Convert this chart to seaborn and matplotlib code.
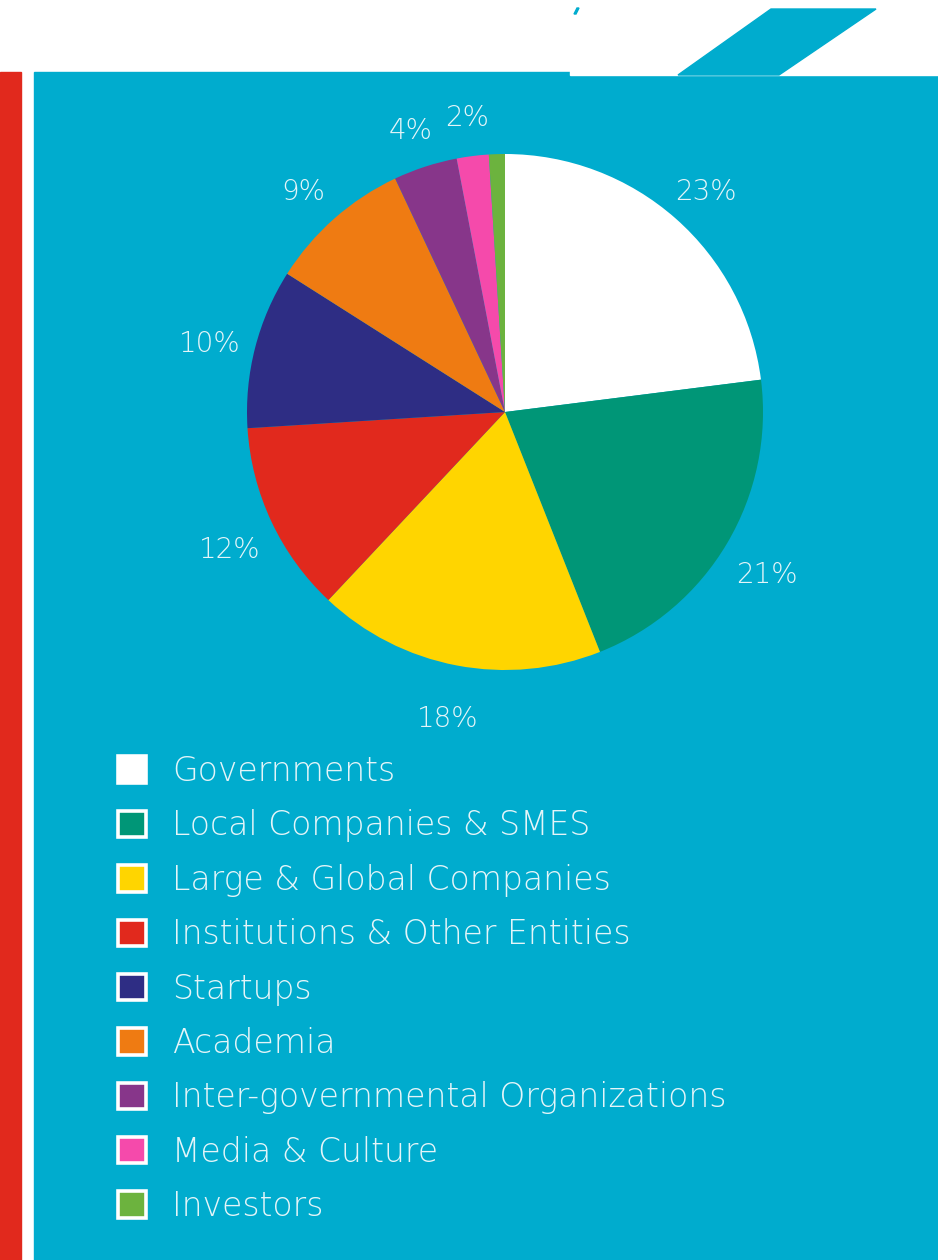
import matplotlib
matplotlib.use("Agg")
import matplotlib.pyplot as plt
from matplotlib.patches import Rectangle, Polygon, Patch
import seaborn as sns

categories = ["Governments", "Local Companies & SMES", "Large & Global Companies",
              "Institutions & Other Entities", "Startups", "Academia",
              "Inter-governmental Organizations", "Media & Culture", "Investors"]
shares = [23, 21, 18, 12, 10, 9, 4, 2, 1]
colors = ["#FFFFFF", "#009677", "#FFD500", "#E1291D", "#2E2D84",
          "#EF7B12", "#87368A", "#F54AAB", "#6CB33E"]

sns.set_theme(style="white")
plt.rcParams["font.family"] = ["DejaVu Sans"]
plt.rcParams["font.weight"] = "light"

W, H = 938, 1260
fig = plt.figure(figsize=(W / 100, H / 100), dpi=100)
fig.patch.set_facecolor("white")

BLUE = "#00ACCE"
RED = "#E1291D"
TXT = "#E4F5F9"

def fx(x):
    return x / W

def fy(y):
    return 1 - y / H

# background shapes (figure coords)
fig.patches.append(Rectangle((fx(0), fy(H)), fx(21), fy(72) - fy(H),
                             transform=fig.transFigure, color=RED, zorder=0))
fig.patches.append(Rectangle((fx(34), fy(H)), fx(W - 34), fy(72) - fy(H),
                             transform=fig.transFigure, color=BLUE, zorder=0))
fig.patches.append(Rectangle((fx(570), fy(75)), fx(W - 570), fy(0) - fy(75),
                             transform=fig.transFigure, color="white", zorder=0.5))
fig.patches.append(Polygon([(fx(678), fy(75)), (fx(771), fy(9)), (fx(876), fy(9)), (fx(779), fy(75))],
                           closed=True, transform=fig.transFigure, color=BLUE, zorder=0.6))
fig.patches.append(Polygon([(fx(574), fy(14)), (fx(577), fy(8)), (fx(579), fy(8)), (fx(576), fy(14))],
                           closed=True, transform=fig.transFigure, color=BLUE, zorder=0.6))

# pie axes: centre (505, 412), radius 258 px
cx, cy, R = 505, 412, 258
half = 1.4 * R
ax = fig.add_axes([fx(cx - half), fy(cy + half), 2 * half / W, 2 * half / H])
ax.set_zorder(5)
ax.set_facecolor("none")

wedges, _, autotexts = ax.pie(
    shares, colors=colors, startangle=90, counterclock=False,
    autopct=lambda p: f"{p:.0f}%" if p >= 1.5 else "",
    pctdistance=1.18, wedgeprops=dict(linewidth=0),
    textprops=dict(color=TXT, fontsize=20),
)
for t in autotexts:
    t.set_verticalalignment("center_baseline")
    x, y = t.get_position()
    t.set_position((x, y - 0.02))
ax.set_xlim(-1.4, 1.4)
ax.set_ylim(-1.4, 1.4)
ax.set_aspect("equal")
ax.axis("off")

handles = [Patch(facecolor=c, edgecolor="white", linewidth=2.6) for c in colors]
leg = fig.legend(handles, categories, loc="upper left",
                 bbox_to_anchor=(fx(118), fy(755)), frameon=False,
                 fontsize=23.8, labelcolor=TXT, handlelength=0.85, handleheight=0.85,
                 handletextpad=0.79, labelspacing=0.647, borderpad=0, borderaxespad=0)
leg.set_zorder(6)

fig.savefig("out.png", dpi=100, facecolor="white")
